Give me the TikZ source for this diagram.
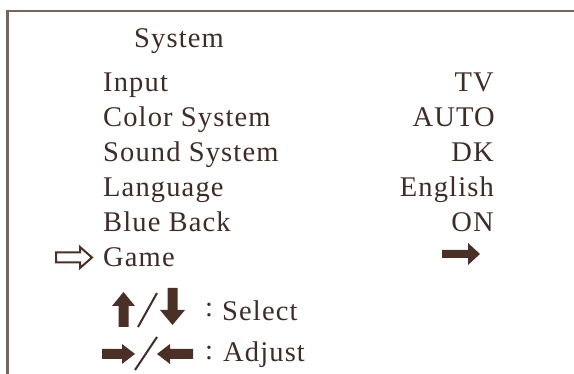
\documentclass[tikz,border=0pt]{standalone}
\usepackage{fontspec}
\setmainfont{Liberation Serif}[LetterSpace=4]
\definecolor{txt}{HTML}{3E2C27}
\definecolor{arr}{HTML}{4A3026}
\definecolor{frm}{HTML}{76645F}
\begin{document}
\begin{tikzpicture}[x=1pt,y=-1pt,
  lbl/.style={inner sep=0pt, anchor=base west, text=txt, font=\fontsize{28.5}{31}\selectfont},
  val/.style={inner sep=0pt, anchor=base east, text=txt, font=\fontsize{28.5}{31}\selectfont},
  solidarrow/.style={fill=arr},
  hollowarrow/.style={draw=arr, line width=2pt, line join=miter, fill=white},
  slash/.style={draw=txt, line width=2pt}]
\useasboundingbox (0,0) rectangle (574,374);
\draw[frm, line width=2.5pt] (7.5,374) -- (7.5,11) -- (574,11);
% title
\node[lbl] (title) at (134,48) {System};
% labels
\node[lbl] (input) at (103,92) {Input};
\node[lbl] (color) at (103,127) {Color System};
\node[lbl] (sound) at (103,162) {Sound System};
\node[lbl] (lang) at (103,197) {Language};
\node[lbl] (blue) at (103,232) {Blue Back};
\node[lbl] (game) at (103,267) {Game};
% values
\node[val] (vtv) at (494,92) {TV};
\node[val] (vauto) at (495,127) {AUTO};
\node[val] (vdk) at (494,162) {DK};
\node[val] (veng) at (494,197) {English};
\node[val] (von) at (494,232) {ON};
% hollow pointer
\path[hollowarrow] (56,252.5) -- (80,252.5) -- (80,247) -- (92,257.5) -- (80,268) -- (80,262.5) -- (56,262.5) -- cycle;
% game submenu arrow
\path[solidarrow] (442,250) -- (468,250) -- (468,243) -- (480,254) -- (468,265) -- (468,258) -- (442,258) -- cycle;
% select row
\path[solidarrow] (118.5,327) -- (118.5,306) -- (112,306) -- (123.5,292) -- (135,306) -- (128.5,306) -- (128.5,327) -- cycle;
\path[slash] (138,327) -- (157,293);
\path[solidarrow] (167.5,288) -- (177.5,288) -- (177.5,310) -- (185,310) -- (172.5,325) -- (160,310) -- (167.5,310) -- cycle;
\node[lbl] (scolon) at (205,317) {:};
\node[lbl] (select) at (222,321) {Select};
% adjust row
\path[solidarrow] (102,349) -- (122,349) -- (122,344) -- (135,354) -- (122,364) -- (122,359) -- (102,359) -- cycle;
\path[slash] (135,370) -- (157,337);
\path[solidarrow] (193,349) -- (170,349) -- (170,344) -- (157,354) -- (170,364) -- (170,359) -- (193,359) -- cycle;
\node[lbl] (acolon) at (205,360) {:};
\node[lbl] (adjust) at (223,362) {Adjust};
\end{tikzpicture}
\end{document}
